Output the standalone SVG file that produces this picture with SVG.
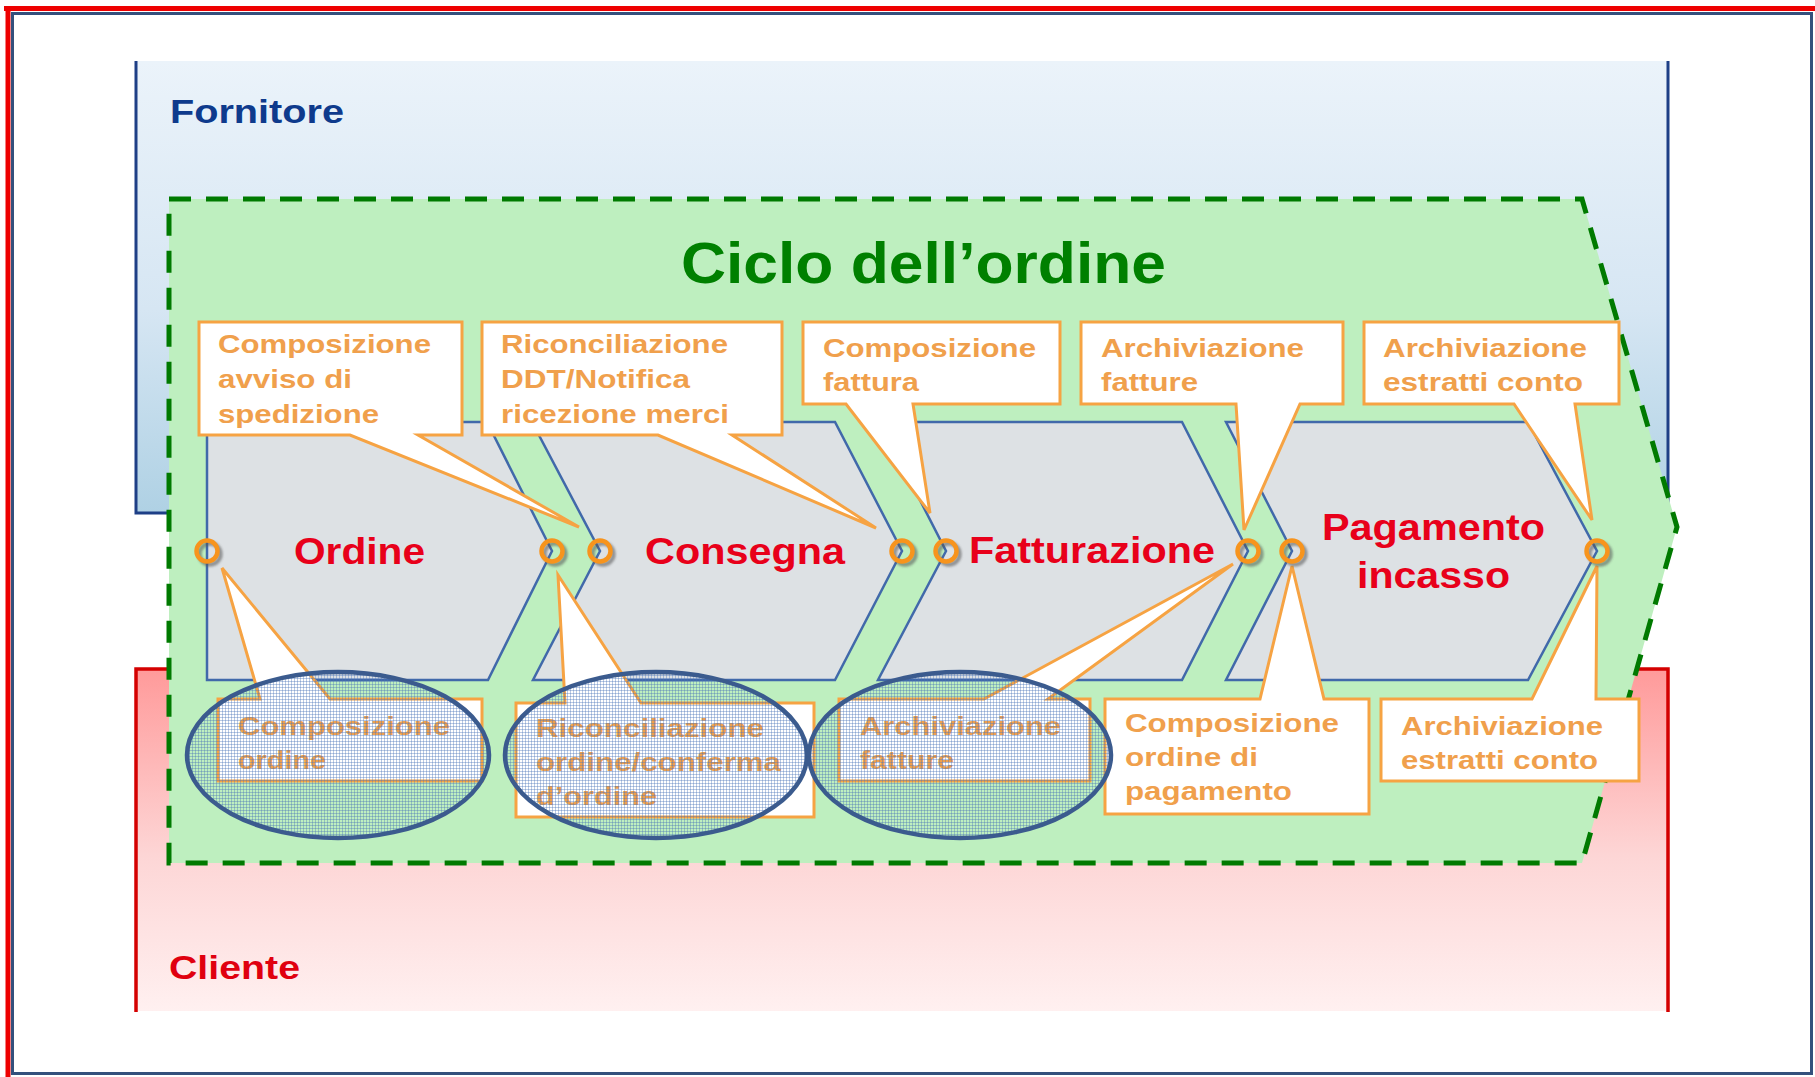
<svg xmlns="http://www.w3.org/2000/svg" width="1815" height="1077" viewBox="0 0 1815 1077">
<defs>
<linearGradient id="gForn" x1="0" y1="0" x2="0" y2="1">
<stop offset="0" stop-color="#ebf3fa"/>
<stop offset="0.55" stop-color="#d6e6f3"/>
<stop offset="1" stop-color="#afd1e4"/>
</linearGradient>
<linearGradient id="gCli" x1="0" y1="0" x2="0" y2="1">
<stop offset="0" stop-color="#ff9a9a"/>
<stop offset="0.55" stop-color="#fdd6d6"/>
<stop offset="1" stop-color="#fff0f0"/>
</linearGradient>
<pattern id="grid" width="3" height="3" patternUnits="userSpaceOnUse">
<rect width="3" height="1" fill="#4a74b8" fill-opacity="0.38"/>
<rect width="1" height="3" fill="#4a74b8" fill-opacity="0.38"/>
</pattern>
<filter id="sh" x="-50%" y="-50%" width="200%" height="200%">
<feGaussianBlur stdDeviation="1.2"/>
</filter>
</defs>
<style>
.frameR{stroke:#ee0000;stroke-width:5;fill:none}
.frameB{stroke:#34507c;stroke-width:3;fill:none}
.lane-f{stroke:#1e3f86;stroke-width:3;fill:none}
.lane-c{stroke:#d40000;stroke-width:3.5;fill:none}
.cycle{fill:#beefbf;stroke:#007a00;stroke-width:5;stroke-dasharray:22 15}
.chev{fill:#dde1e4;stroke:#4169aa;stroke-width:2.5;stroke-linejoin:miter}
.call{fill:#ffffff;stroke:#f6a343;stroke-width:3;stroke-linejoin:miter}
.ct{font-family:"Liberation Sans",Arial,sans-serif;font-weight:bold;font-size:26px;fill:#f0a04c}
.pl{font-family:"Liberation Sans",Arial,sans-serif;font-weight:bold;font-size:37px;fill:#e8001a}
.lane{font-family:"Liberation Sans",Arial,sans-serif;font-weight:bold;font-size:33px}
.ring{fill:none;stroke:#f7941d;stroke-width:4.5}
.rsh{fill:none;stroke:#555555;stroke-width:4.5;opacity:0.55}
.ell{fill:url(#grid);stroke:#3b5b8e;stroke-width:4.5}
</style>
<rect x="0" y="0" width="1815" height="1077" fill="#ffffff"/>
<g id="frame">
<rect class="frameB" x="12.5" y="13.5" width="1799" height="1060"/>
<line class="frameR" x1="4" y1="8.5" x2="1815" y2="8.5"/>
<line class="frameR" x1="8" y1="6" x2="8" y2="1077"/>
</g>
<g id="lane-fornitore">
<rect x="136" y="61" width="1532" height="452" fill="url(#gForn)"/>
<path class="lane-f" d="M136,61 V513 H1668 V61"/>
<text class="lane" x="170" y="123" fill="#0e3a8c" textLength="174" lengthAdjust="spacingAndGlyphs">Fornitore</text>
</g>
<g id="lane-cliente">
<rect x="136" y="669" width="1532" height="342" fill="url(#gCli)"/>
<path class="lane-c" d="M136,1012 V669 H1668 V1012"/>
<text class="lane" x="169" y="979" fill="#e0000f" font-size="32" textLength="131" lengthAdjust="spacingAndGlyphs">Cliente</text>
</g>
<g id="ciclo">
<polygon class="cycle" points="169,199 1582,199 1677,527 1582,863 169,863"/>
<text x="681" y="283" font-family="'Liberation Sans',Arial,sans-serif" font-weight="bold" font-size="57" fill="#008000" textLength="485" lengthAdjust="spacingAndGlyphs">Ciclo dell’ordine</text>
</g>
<g id="processes">
<g id="p-ordine"><polygon class="chev" points="207,422 487,422 552,551 488,680 207,680"/></g>
<g id="p-consegna"><polygon class="chev" points="532,422 835,422 902,551 835,680 533,680 600,551"/></g>
<g id="p-fatturazione"><polygon class="chev" points="880,422 1182,422 1248,551 1182,680 878,680 946,551"/></g>
<g id="p-pagamento"><polygon class="chev" points="1226,422 1528,422 1597,551 1528,680 1226,680 1292,551"/></g>
</g>
<g id="connectors">
<g id="c-top1"><path class="call" d="M199,322 H462 V435 H418 L579,527 L350,435 H199 Z"/>
<text class="ct" x="218" y="353" textLength="213" lengthAdjust="spacingAndGlyphs">Composizione</text>
<text class="ct" x="218" y="388" textLength="134" lengthAdjust="spacingAndGlyphs">avviso di</text>
<text class="ct" x="218" y="423" textLength="161" lengthAdjust="spacingAndGlyphs">spedizione</text></g>
<g id="c-top2"><path class="call" d="M482,322 H782 V435 H732 L876,528 L658,435 H482 Z"/>
<text class="ct" x="501" y="353" textLength="227" lengthAdjust="spacingAndGlyphs">Riconciliazione</text>
<text class="ct" x="501" y="388" textLength="189" lengthAdjust="spacingAndGlyphs">DDT/Notifica</text>
<text class="ct" x="501" y="423" textLength="228" lengthAdjust="spacingAndGlyphs">ricezione merci</text></g>
<g id="c-top3"><path class="call" d="M803,322 H1060 V404 H913 L930,513 L846,404 H803 Z"/>
<text class="ct" x="823" y="357" textLength="213" lengthAdjust="spacingAndGlyphs">Composizione</text>
<text class="ct" x="823" y="391" textLength="96" lengthAdjust="spacingAndGlyphs">fattura</text></g>
<g id="c-top4"><path class="call" d="M1081,322 H1343 V404 H1300 L1244,530 L1236,404 H1081 Z"/>
<text class="ct" x="1101" y="357" textLength="203" lengthAdjust="spacingAndGlyphs">Archiviazione</text>
<text class="ct" x="1101" y="391" textLength="97" lengthAdjust="spacingAndGlyphs">fatture</text></g>
<g id="c-top5"><path class="call" d="M1364,322 H1619 V404 H1575 L1592,520 L1514,404 H1364 Z"/>
<text class="ct" x="1383" y="357" textLength="204" lengthAdjust="spacingAndGlyphs">Archiviazione</text>
<text class="ct" x="1383" y="391" textLength="200" lengthAdjust="spacingAndGlyphs">estratti conto</text></g>
<g id="c-bot1"><path class="call" d="M218,699 H260 L222,568 L330,699 H482 V781 H218 Z"/>
<text class="ct" x="238" y="735" textLength="212" lengthAdjust="spacingAndGlyphs">Composizione</text>
<text class="ct" x="238" y="769" textLength="88" lengthAdjust="spacingAndGlyphs">ordine</text></g>
<g id="c-bot2"><path class="call" d="M516,703 H565 L558,575 L641,703 H814 V817 H516 Z"/>
<text class="ct" x="536" y="737" textLength="228" lengthAdjust="spacingAndGlyphs">Riconciliazione</text>
<text class="ct" x="536" y="771" textLength="245" lengthAdjust="spacingAndGlyphs">ordine/conferma</text>
<text class="ct" x="536" y="805" textLength="121" lengthAdjust="spacingAndGlyphs">d’ordine</text></g>
<g id="c-bot3"><path class="call" d="M839,699 H984 L1233,564 L1048,699 H1090 V781 H839 Z"/>
<text class="ct" x="860" y="735" textLength="201" lengthAdjust="spacingAndGlyphs">Archiviazione</text>
<text class="ct" x="860" y="769" textLength="94" lengthAdjust="spacingAndGlyphs">fatture</text></g>
<g id="c-bot4"><path class="call" d="M1105,699 H1260 L1292,566 L1324,699 H1369 V814 H1105 Z"/>
<text class="ct" x="1125" y="732" textLength="214" lengthAdjust="spacingAndGlyphs">Composizione</text>
<text class="ct" x="1125" y="766" textLength="133" lengthAdjust="spacingAndGlyphs">ordine di</text>
<text class="ct" x="1125" y="800" textLength="167" lengthAdjust="spacingAndGlyphs">pagamento</text></g>
<g id="c-bot5"><path class="call" d="M1381,699 H1532 L1597,566 L1596,699 H1639 V781 H1381 Z"/>
<text class="ct" x="1401" y="735" textLength="202" lengthAdjust="spacingAndGlyphs">Archiviazione</text>
<text class="ct" x="1401" y="769" textLength="197" lengthAdjust="spacingAndGlyphs">estratti conto</text></g>
</g>
<g id="events">
<g filter="url(#sh)">
<circle class="rsh" cx="210" cy="554" r="10.5"/>
<circle class="rsh" cx="555" cy="554" r="10.5"/>
<circle class="rsh" cx="603" cy="554" r="10.5"/>
<circle class="rsh" cx="905" cy="554" r="10.5"/>
<circle class="rsh" cx="949" cy="554" r="10.5"/>
<circle class="rsh" cx="1251" cy="554" r="10.5"/>
<circle class="rsh" cx="1295" cy="554" r="10.5"/>
<circle class="rsh" cx="1600" cy="554" r="10.5"/>
</g>
<circle class="ring" cx="207" cy="551" r="10.5"/>
<circle class="ring" cx="552" cy="551" r="10.5"/>
<circle class="ring" cx="600" cy="551" r="10.5"/>
<circle class="ring" cx="902" cy="551" r="10.5"/>
<circle class="ring" cx="946" cy="551" r="10.5"/>
<circle class="ring" cx="1248" cy="551" r="10.5"/>
<circle class="ring" cx="1292" cy="551" r="10.5"/>
<circle class="ring" cx="1597" cy="551" r="10.5"/>
</g>
<g id="labels">
<text class="pl" x="294" y="564" textLength="131" lengthAdjust="spacingAndGlyphs">Ordine</text>
<text class="pl" x="645" y="564" textLength="200" lengthAdjust="spacingAndGlyphs">Consegna</text>
<text class="pl" x="969" y="563" textLength="246" lengthAdjust="spacingAndGlyphs">Fatturazione</text>
<text class="pl" x="1322" y="540" textLength="223" lengthAdjust="spacingAndGlyphs">Pagamento</text>
<text class="pl" x="1357" y="588" textLength="153" lengthAdjust="spacingAndGlyphs">incasso</text>
</g>
<g id="highlights">
<ellipse class="ell" cx="338" cy="755" rx="151" ry="83"/>
<ellipse class="ell" cx="656" cy="755" rx="151" ry="83"/>
<ellipse class="ell" cx="960" cy="755" rx="151" ry="83"/>
</g>
</svg>
